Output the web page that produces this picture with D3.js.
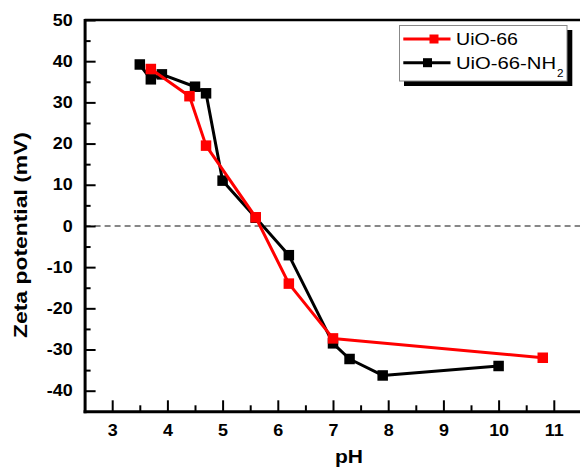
<!DOCTYPE html>
<html>
<head>
<meta charset="utf-8">
<script src="https://cdn.jsdelivr.net/npm/d3@7"></script>
<style>
  html, body { margin: 0; padding: 0; background: #fff; }
  svg { display: block; font-family: "Liberation Sans", Arial, sans-serif; }
</style>
</head>
<body>
<svg id="chart" width="580" height="467"></svg>
<script>
// Zeta potential vs pH for two MOF samples
const phUiO66 = [3.7, 4.4, 4.7, 5.6, 6.2, 7.0, 10.8];
const zetaUiO66 = [38.1, 31.5, 19.5, 2.1, -14.0, -27.3, -32.0];

const phUiO66NH2 = [3.5, 3.7, 3.9, 4.5, 4.7, 5.0, 5.6, 6.2, 7.0, 7.3, 7.9, 10.0];
const zetaUiO66NH2 = [39.2, 35.6, 36.8, 33.8, 32.2, 11.0, 2.0, -7.1, -28.5, -32.3, -36.3, -34.0];

const xMajor = [3, 4, 5, 6, 7, 8, 9, 10, 11];
const xMinor = [3.5, 4.5, 5.5, 6.5, 7.5, 8.5, 9.5, 10.5, 11.5];
const yMajor = [-40, -30, -20, -10, 0, 10, 20, 30, 40, 50];
const yMinor = [-35, -25, -15, -5, 5, 15, 25, 35, 45];

const seriesNames = ["UiO-66", "UiO-66-NH"];
const seriesColors = ["#ff0000", "#000000"];

const svg = d3.select("#chart");

const plotLeft = 84.6, plotTop = 20, plotBottom = 411.3;
const x = d3.scaleLinear().domain([2.5, 12]).range([plotLeft, plotLeft + 9.5 * 55.2]);
const y = d3.scaleLinear().domain([-45, 50]).range([plotBottom, plotTop]);
const plotRight = x.range()[1];

// zero reference line
svg.append("line")
  .attr("x1", plotLeft).attr("x2", plotRight)
  .attr("y1", y(0)).attr("y2", y(0))
  .attr("stroke", "#111").attr("stroke-width", 1.1)
  .attr("stroke-dasharray", "6,4");

// top frame line
svg.append("line")
  .attr("x1", plotLeft).attr("x2", plotRight)
  .attr("y1", plotTop).attr("y2", plotTop)
  .attr("stroke", "#000").attr("stroke-width", 2.5);

const stretch = 1.12;
const fmt = d => String(d);

// x axis: inward ticks, labels below
const gx = svg.append("g").attr("transform", `translate(0,${plotBottom})`);
gx.call(d3.axisBottom(x).tickValues(xMajor).tickFormat(fmt)
  .tickSizeInner(-11).tickSizeOuter(0).tickPadding(13));
svg.append("g").attr("transform", `translate(0,${plotBottom})`)
  .call(d3.axisBottom(x).tickValues(xMinor).tickFormat("")
    .tickSizeInner(-6).tickSizeOuter(0))
  .call(g => g.select(".domain").remove());

// y axis
const gy = svg.append("g").attr("transform", `translate(${plotLeft},0)`);
gy.call(d3.axisLeft(y).tickValues(yMajor).tickFormat(fmt)
  .tickSizeInner(-11).tickSizeOuter(0).tickPadding(12));
svg.append("g").attr("transform", `translate(${plotLeft},0)`)
  .call(d3.axisLeft(y).tickValues(yMinor).tickFormat("")
    .tickSizeInner(-6).tickSizeOuter(0))
  .call(g => g.select(".domain").remove());

svg.selectAll(".domain").attr("stroke", "#000").attr("stroke-width", 3)
  .attr("stroke-linecap", "square");
svg.selectAll(".tick line").attr("stroke", "#000").attr("stroke-width", 2);
svg.selectAll(".tick text")
  .attr("fill", "#000")
  .attr("font-family", "'Liberation Sans', Arial, sans-serif")
  .attr("font-size", 16)
  .attr("font-weight", "bold");
gx.selectAll(".tick text").attr("transform", `scale(${stretch},1)`);
gy.selectAll(".tick text")
  .attr("x", -12 / stretch)
  .attr("transform", `scale(${stretch},1)`);

// axis titles
svg.append("text")
  .attr("transform", "translate(27,235) rotate(-90)")
  .attr("text-anchor", "middle")
  .attr("font-size", 18.5).attr("font-weight", "bold")
  .attr("textLength", 206).attr("lengthAdjust", "spacingAndGlyphs")
  .text("Zeta potential (mV)");

svg.append("text")
  .attr("x", 349).attr("y", 463.3)
  .attr("text-anchor", "middle")
  .attr("font-size", 18.5).attr("font-weight", "bold")
  .attr("textLength", 28).attr("lengthAdjust", "spacingAndGlyphs")
  .text("pH");

// series
const line = d3.line().x(d => x(d[0])).y(d => y(d[1]));
const ms = 10.5;

function drawSeries(ph, zeta, color) {
  const pts = ph.map((p, i) => [p, zeta[i]]);
  const g = svg.append("g");
  g.append("path").datum(pts)
    .attr("d", line)
    .attr("fill", "none")
    .attr("stroke", color)
    .attr("stroke-width", 3)
    .attr("stroke-linejoin", "round");
  g.selectAll("rect").data(pts).join("rect")
    .attr("x", d => x(d[0]) - ms / 2)
    .attr("y", d => y(d[1]) - ms / 2)
    .attr("width", ms).attr("height", ms)
    .attr("fill", color);
}
drawSeries(phUiO66NH2, zetaUiO66NH2, seriesColors[1]);
drawSeries(phUiO66, zetaUiO66, seriesColors[0]);

// legend
const lg = svg.append("g");
lg.append("rect").attr("x", 404).attr("y", 30).attr("width", 168.3).attr("height", 56)
  .attr("fill", "#000");
lg.append("rect").attr("x", 399.5).attr("y", 25.5).attr("width", 167.5).attr("height", 55.5)
  .attr("fill", "#fff").attr("stroke", "#888").attr("stroke-width", 1);

const rows = [
  { name: seriesNames[0], color: seriesColors[0], ly: 39, ty: 45, mx: 434, len: 62 },
  { name: seriesNames[1], color: seriesColors[1], ly: 62.7, ty: 68.7, mx: 427.5, len: 100 }
];
rows.forEach(r => {
  lg.append("line").attr("x1", 403.3).attr("x2", 450.5)
    .attr("y1", r.ly).attr("y2", r.ly)
    .attr("stroke", r.color).attr("stroke-width", 3);
  lg.append("rect").attr("x", r.mx - 4.5).attr("y", r.ly - 4.5)
    .attr("width", 9).attr("height", 9).attr("fill", r.color);
  lg.append("text").attr("x", 456).attr("y", r.ty)
    .attr("font-size", 16.3)
    .attr("textLength", r.len).attr("lengthAdjust", "spacingAndGlyphs")
    .text(r.name);
});
lg.append("text").attr("x", 557).attr("y", 76.7)
  .attr("font-size", 11.7).text("2");
</script>
</body>
</html>
